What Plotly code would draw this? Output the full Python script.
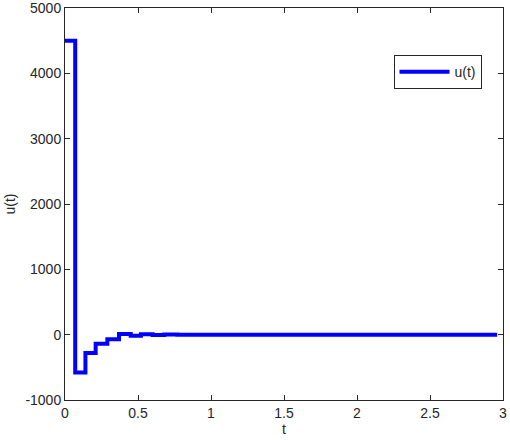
import plotly.graph_objects as go

# step times and control values (zero-order hold)
t_steps = [0, 0.07, 0.14, 0.21, 0.29, 0.37, 0.45, 0.52, 0.60, 0.68, 0.77, 2.96]
u_vals = [4500, -580, -280, -140, -70, 10, -15, 5, -5, 3, 0, 0]

x_ticks = [0, 0.5, 1, 1.5, 2, 2.5, 3]
y_ticks = [-1000, 0, 1000, 2000, 3000, 4000, 5000]

FONT = dict(family='Liberation Sans, Arial', size=14, color='#262626')

fig = go.Figure()
fig.add_trace(go.Scatter(
    x=t_steps, y=u_vals,
    mode='lines',
    line=dict(color='#0000ff', width=4, shape='hv'),
    name='u(t)'
))

axis_style = dict(
    showline=True, linecolor='#262626', linewidth=1,
    mirror='ticks', ticks='inside', ticklen=5, tickcolor='#262626',
    showgrid=False, zeroline=False, automargin=False,
    ticklabeloverflow='allow', tickfont=FONT,
)

fig.update_xaxes(range=[0, 3], tickvals=x_ticks,
                 ticktext=[str(v) for v in x_ticks],
                 title=dict(text='t', standoff=2, font=FONT),
                 **axis_style)
fig.update_yaxes(range=[-1000, 5000], tickvals=y_ticks,
                 ticktext=[str(v) for v in y_ticks],
                 title=dict(text='u(t)', standoff=6, font=FONT),
                 **axis_style)

fig.update_layout(
    width=510, height=440,
    margin=dict(l=65, r=7, t=8, b=40),
    paper_bgcolor='white', plot_bgcolor='white',
    showlegend=True,
    legend=dict(x=0.75, y=0.88, xanchor='left', yanchor='top',
                bordercolor='#262626', borderwidth=1, bgcolor='white',
                itemwidth=50, font=FONT),
)

# page body has a default 8px margin; drop it so the figure fills the window
fig.write_html("out.html", config={'displayModeBar': False},
               post_script="document.body.style.margin='0';")
